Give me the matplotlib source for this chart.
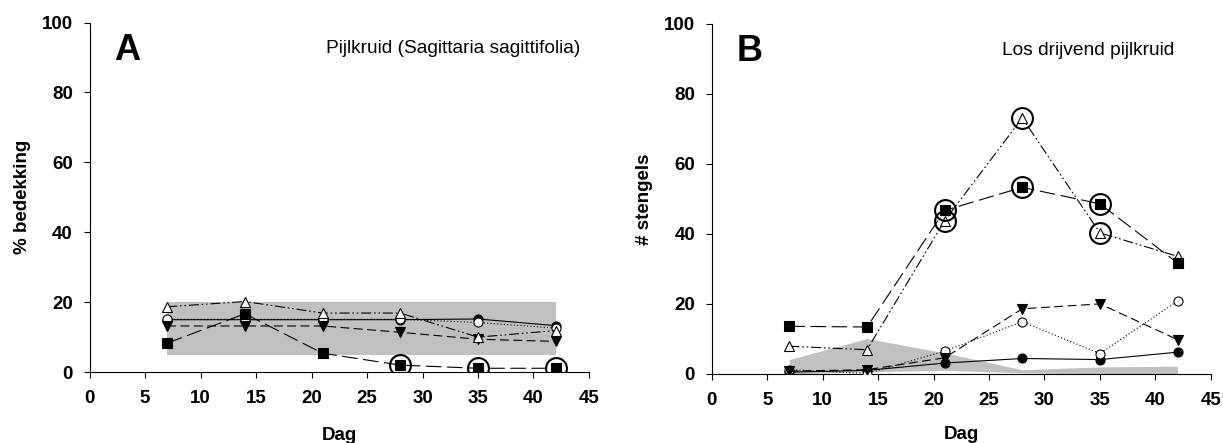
import numpy as np
import matplotlib
matplotlib.use("Agg")
import matplotlib.pyplot as plt

plt.rcParams["font.family"] = ["Liberation Sans", "DejaVu Sans"]

# Sampling days
days = [7, 14, 21, 28, 35, 42]

# Panel A: % bedekking
a_filled_circle = [15.0, 15.0, 15.0, 15.0, 15.2, 13.3]
a_open_circle = [15.1, 15.1, 15.1, 15.1, 14.2, 12.6]
a_down_tri = [13.2, 13.2, 13.2, 11.4, 9.4, 8.8]
a_square = [8.3, 16.7, 5.4, 2.0, 1.1, 1.1]
a_open_tri = [18.7, 20.2, 16.9, 16.9, 10.0, 11.9]
a_band_low = [5, 5, 5, 5, 5, 5]
a_band_high = [20, 20, 20, 20, 20, 20]
a_circled_days = [28, 35, 42]

# Panel B: # stengels
b_filled_circle = [0.5, 1.0, 3.1, 4.4, 4.1, 6.2]
b_open_circle = [1.2, 0.1, 6.5, 14.9, 5.8, 20.8]
b_down_tri = [0.8, 1.2, 4.6, 18.6, 20.0, 9.8]
b_square = [13.6, 13.4, 46.7, 53.3, 48.6, 31.7]
b_open_tri = [7.9, 6.9, 43.8, 73.1, 40.3, 33.6]
b_band_low = [0.0, 0.6, 1.0, 0.3, 0.0, 0.0]
b_band_high = [4.1, 10.1, 6.0, 1.2, 2.0, 2.2]
b_circled_days = [21, 28, 35]

xticks = [0, 5, 10, 15, 20, 25, 30, 35, 40, 45]
yticks = [0, 20, 40, 60, 80, 100]

LW = 0.8
STYLES = {
    "filled_circle": dict(marker="o", mfc="black", ls="-"),
    "open_circle": dict(marker="o", mfc="white", ls=(0, (1, 2))),
    "down_tri": dict(marker="v", mfc="black", ls=(0, (8, 4))),
    "square": dict(marker="s", mfc="black", ls=(0, (14, 5))),
    "open_tri": dict(marker="^", mfc="white", ls=(0, (9, 2.5, 1.5, 2.5, 1.5, 2.5))),
}


def draw_panel(ax, series, band_low, band_high, circled, letter, title, title_x,
               ylabel, xlabelpad):
    ax.fill_between(days, band_low, band_high, color="#c0c0c0", lw=0, zorder=1)
    for key in ["filled_circle", "open_circle", "down_tri", "open_tri", "square"]:
        st = STYLES[key]
        ax.plot(days, series[key], color="black", lw=LW, ls=st["ls"],
                marker=st["marker"], mfc=st["mfc"], mec="black", mew=0.8,
                ms=6.5, zorder=3)
    for key, cdays in circled:
        vals = [series[key][days.index(d)] for d in cdays]
        ax.plot(cdays, vals, ls="none", marker="o", ms=15, mfc="none",
                mec="black", mew=1.5, zorder=4)

    ax.set_xlim(0, 45)
    ax.set_ylim(0, 100)
    ax.set_xticks(xticks)
    ax.set_yticks(yticks)
    for s in ["top", "right"]:
        ax.spines[s].set_visible(False)
    for s in ["left", "bottom"]:
        ax.spines[s].set_linewidth(0.8)
    ax.tick_params(direction="out", length=4, width=0.8, labelsize=13.5)
    ax.tick_params(axis="x", pad=9)
    ax.tick_params(axis="y", pad=8)
    for lab in ax.get_xticklabels() + ax.get_yticklabels():
        lab.set_fontweight("bold")
    ax.set_xlabel("Dag", fontsize=13.5, fontweight="bold", labelpad=xlabelpad)
    ax.set_ylabel(ylabel, fontsize=13.5, fontweight="bold", labelpad=8)
    ax.text(0.05, 0.92, letter, transform=ax.transAxes, fontsize=26,
            fontweight="bold", ha="left", va="center")
    ax.text(title_x, 0.925, title, transform=ax.transAxes, fontsize=13.8,
            ha="left", va="center")


fig = plt.figure(figsize=(12.23, 4.43), dpi=100)
ax_a = fig.add_axes([0.0732, 0.160, 0.4084, 0.789])
ax_b = fig.add_axes([0.582, 0.156, 0.408, 0.790])

draw_panel(ax_a,
           {"filled_circle": a_filled_circle, "open_circle": a_open_circle,
            "down_tri": a_down_tri, "square": a_square, "open_tri": a_open_tri},
           a_band_low, a_band_high, [("square", a_circled_days)],
           "A", "Pijlkruid (Sagittaria sagittifolia)", 0.473, "% bedekking", 14)

draw_panel(ax_b,
           {"filled_circle": b_filled_circle, "open_circle": b_open_circle,
            "down_tri": b_down_tri, "square": b_square, "open_tri": b_open_tri},
           b_band_low, b_band_high,
           [("square", b_circled_days), ("open_tri", b_circled_days)],
           "B", "Los drijvend pijlkruid", 0.581, "# stengels", 12)

fig.savefig("out.png", dpi=100)
